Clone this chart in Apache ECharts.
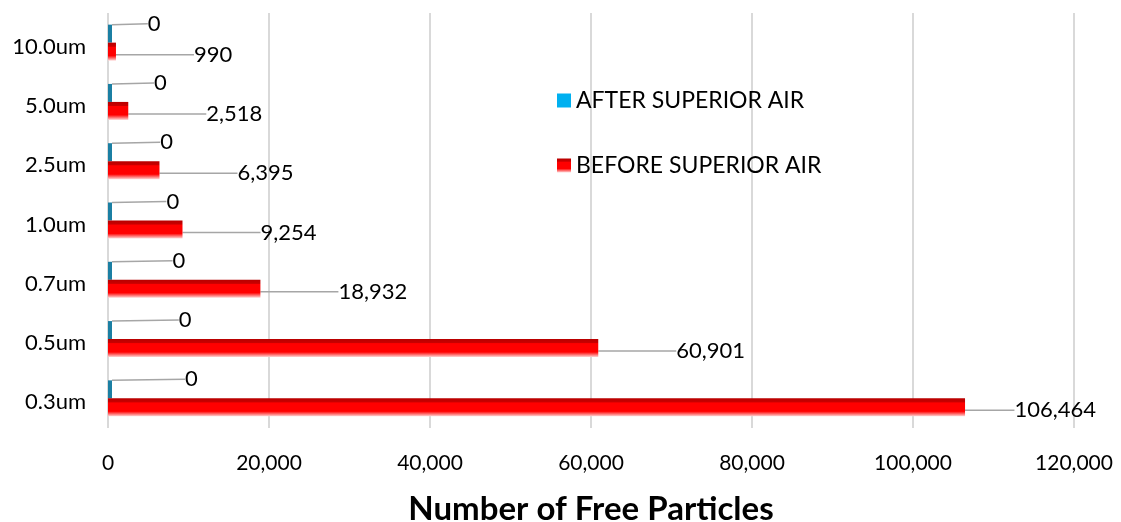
<!DOCTYPE html>
<html>
<head>
    <meta charset="UTF-8">
    <title>Free Particles</title>
    <script type="text/javascript" src="https://cdn.jsdelivr.net/npm/echarts@6/dist/echarts.min.js"></script>
    <style type="text/css">
        html, body { margin: 0; padding: 0; background: #fff; }
        #chart { width: 1121px; height: 522px; }
    </style>
</head>
<body>
<div id="chart"></div>
<script type="text/javascript">
    // sizes, bottom to top
    var sizes = ['0.3um', '0.5um', '0.7um', '1.0um', '2.5um', '5.0um', '10.0um'];
    var beforeAir = [106464, 60901, 18932, 9254, 6395, 2518, 990];
    var afterAir = [0, 0, 0, 0, 0, 0, 0];
    var xTicks = [0, 20000, 40000, 60000, 80000, 100000, 120000];

    var FONT = 'Lato';

    function fmt(v) {
        return Number(v).toLocaleString('en-US');
    }

    // red bar: dark top edge, bright face, pale bottom
    var redFill = {
        type: 'linear', x: 0, y: 0, x2: 0, y2: 1,
        colorStops: [
            {offset: 0, color: '#b80000'},
            {offset: 0.2, color: '#c80000'},
            {offset: 0.25, color: '#ff0000'},
            {offset: 0.72, color: '#ff0000'},
            {offset: 1, color: '#ffd6d6'}
        ]
    };

    var chart = echarts.init(document.getElementById('chart'));
    chart.setOption({
        animation: false,
        textStyle: {fontFamily: FONT},
        grid: {left: 108, right: 47, top: 13, bottom: 94, outerBoundsMode: 'none', containLabel: false},
        legend: {
            orient: 'vertical',
            left: 552,
            top: 84,
            itemGap: 42,
            itemWidth: 14,
            itemHeight: 14,
            icon: 'rect',
            textStyle: {fontFamily: FONT, fontSize: 23, color: '#000'},
            data: [
                {name: 'AFTER SUPERIOR AIR', itemStyle: {color: '#00b0f0'}},
                {name: 'BEFORE SUPERIOR AIR'}
            ]
        },
        xAxis: {
            type: 'value',
            min: xTicks[0],
            max: xTicks[xTicks.length - 1],
            interval: xTicks[1] - xTicks[0],
            name: 'Number of Free Particles',
            nameLocation: 'middle',
            nameGap: 65,
            nameTextStyle: {fontFamily: FONT, fontSize: 33, fontWeight: 'bold', color: '#000'},
            axisLine: {show: false},
            axisTick: {show: false},
            axisLabel: {
                margin: 25,
                fontSize: 21,
                color: '#000',
                formatter: function (v) { return fmt(v); }
            },
            splitLine: {lineStyle: {color: '#d9d9d9', width: 2}}
        },
        yAxis: {
            type: 'category',
            data: sizes,
            axisLine: {show: false},
            axisTick: {show: false},
            axisLabel: {margin: 22, fontSize: 22, color: '#000', verticalAlign: 'top', lineHeight: 8}
        },
        series: [
            {
                name: 'AFTER SUPERIOR AIR',
                type: 'bar',
                data: afterAir,
                barWidth: 18,
                barGap: '0%',
                barMinHeight: 4,
                itemStyle: {color: '#1b7fa3'},
                label: {
                    show: true,
                    position: 'right',
                    distance: 5,
                    fontSize: 22,
                    color: '#000',
                    formatter: function (p) { return fmt(p.value); }
                },
                labelLayout: function (p) {
                    return {dx: 68 - 6.2 * p.dataIndex, dy: -10};
                },
                labelLine: {show: true, lineStyle: {color: '#a6a6a6', width: 1.5}}
            },
            {
                name: 'BEFORE SUPERIOR AIR',
                type: 'bar',
                data: beforeAir,
                barWidth: 18,
                barGap: '0%',
                itemStyle: {color: redFill},
                label: {
                    show: true,
                    position: 'right',
                    distance: 5,
                    fontSize: 22,
                    color: '#000',
                    formatter: function (p) { return fmt(p.value); }
                },
                labelLayout: function (p) {
                    var r = p.labelRect;
                    return {dx: Math.min(73, 1096 - r.x - r.width), dy: 3};
                },
                labelLine: {show: true, lineStyle: {color: '#a6a6a6', width: 1.5}}
            }
        ]
    });
</script>
</body>
</html>
